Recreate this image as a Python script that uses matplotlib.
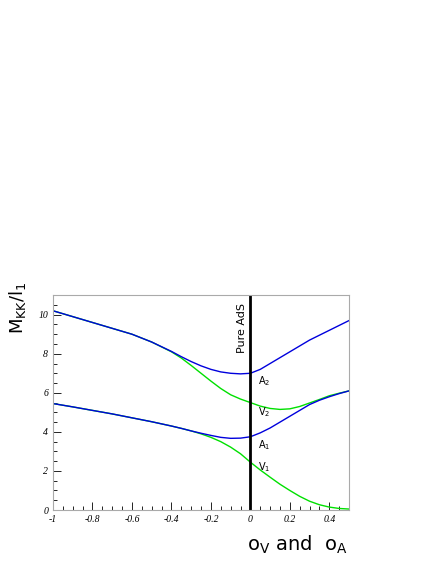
import matplotlib
matplotlib.use("Agg")
import matplotlib.pyplot as plt

x = [-1.0, -0.9, -0.8, -0.7, -0.6, -0.5, -0.4, -0.35, -0.3, -0.25, -0.2, -0.15, -0.1,
     -0.05, 0.0, 0.05, 0.1, 0.15, 0.2, 0.25, 0.3, 0.35, 0.4, 0.45, 0.5]
v1 = [5.45, 5.28, 5.1, 4.92, 4.72, 4.52, 4.3, 4.18, 4.05, 3.9, 3.72, 3.5, 3.22,
      2.88, 2.45, 2.05, 1.68, 1.32, 1.0, 0.7, 0.45, 0.27, 0.15, 0.08, 0.05]
a1 = [5.45, 5.28, 5.1, 4.92, 4.72, 4.52, 4.3, 4.18, 4.05, 3.93, 3.82, 3.72, 3.67,
      3.68, 3.75, 3.95, 4.2, 4.5, 4.8, 5.1, 5.4, 5.62, 5.8, 5.96, 6.1]
v2 = [10.2, 9.9, 9.6, 9.3, 9.0, 8.6, 8.1, 7.78, 7.4, 7.0, 6.6, 6.22, 5.9,
      5.68, 5.5, 5.32, 5.2, 5.15, 5.18, 5.3, 5.48, 5.66, 5.85, 5.98, 6.1]
a2 = [10.2, 9.9, 9.6, 9.3, 9.0, 8.6, 8.12, 7.85, 7.6, 7.38, 7.2, 7.07, 7.0,
      6.97, 7.0, 7.2, 7.5, 7.8, 8.1, 8.4, 8.7, 8.95, 9.2, 9.45, 9.7]

fig = plt.figure(figsize=(4.36, 5.64), dpi=100)
ax = fig.add_axes([0.1216, 0.0957, 0.679, 0.381])

ax.plot(x, v1, color="#00e000", lw=1)
ax.plot(x, v2, color="#00e000", lw=1)
ax.plot(x, a1, color="#0000dd", lw=1)
ax.plot(x, a2, color="#0000dd", lw=1)
ax.axvline(0, color="black", lw=2)

ax.set_xlim(-1, 0.5)
ax.set_ylim(0, 11)
ax.set_xticks([-1, -0.8, -0.6, -0.4, -0.2, 0, 0.2, 0.4])
ax.set_xticklabels(["-1", "-0.8", "-0.6", "-0.4", "-0.2", "0", "0.2", "0.4"])
ax.set_yticks([0, 2, 4, 6, 8, 10])
ax.set_xticks([i / 20 - 1 for i in range(31)], minor=True)
ax.set_yticks([i / 2 for i in range(23)], minor=True)
for lab in ax.get_xticklabels() + ax.get_yticklabels():
    lab.set_family("Liberation Serif")
    lab.set_style("italic")
    lab.set_fontsize(7)
ax.tick_params(which="both", direction="in", top=False, right=False)
ax.tick_params(which="major", length=6, width=0.6)
ax.tick_params(which="minor", length=3, width=0.6)
for s in ax.spines.values():
    s.set_color("#aaaaaa")
    s.set_linewidth(0.8)

ax.text(-0.04, 9.3, "Pure AdS", rotation=90, fontsize=8, ha="center", va="center")
ax.text(0.04, 6.6, "A$_2$", fontsize=7, va="center")
ax.text(0.04, 5.0, "V$_2$", fontsize=7, va="center")
ax.text(0.04, 3.3, "A$_1$", fontsize=7, va="center")
ax.text(0.04, 2.2, "V$_1$", fontsize=7, va="center")

fig.text(0.797, 0.034, "o$_{\\mathregular{V}}$ and  o$_{\\mathregular{A}}$", fontsize=14, ha="right", va="center")
fig.text(0.04, 0.455, "M$_{\\mathregular{KK}}$/l$_{\\mathregular{1}}$", fontsize=13, rotation=90, ha="center", va="center")

fig.savefig("out.png", dpi=100)
